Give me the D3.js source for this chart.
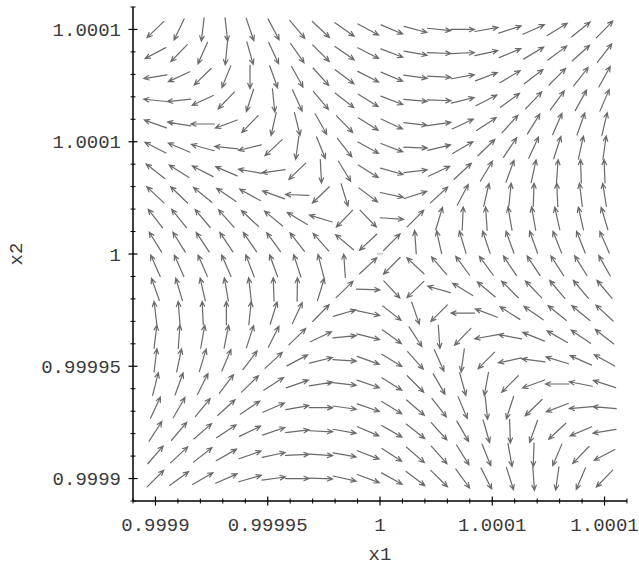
<!DOCTYPE html>
<html>
<head>
<meta charset="utf-8">
<script src="https://cdn.jsdelivr.net/npm/d3@7/dist/d3.min.js"></script>
<style>
	body { margin: 0; background: #fff; }
	svg { display: block; }
	text { font-family: "Liberation Mono", "Courier New", monospace; fill: #3a3a3a; }
</style>
</head>
<body>
<svg></svg>
<script>
// grid of sample points (x1 left to right, x2 top to bottom)
var xGrid = [0.9999, 0.99991053, 0.99992105, 0.99993158, 0.99994211, 0.99995263, 0.99996316, 0.99997368, 0.99998421, 0.99999474,
	1.00000526, 1.00001579, 1.00002632, 1.00003684, 1.00004737, 1.00005789, 1.00006842, 1.00007895, 1.00008947, 1.0001]
var yGrid = [1.0001, 1.00008947, 1.00007895, 1.00006842, 1.00005789, 1.00004737, 1.00003684, 1.00002632, 1.00001579, 1.00000526,
	0.99999474, 0.99998421, 0.99997368, 0.99996316, 0.99995263, 0.99994211, 0.99993158, 0.99992105, 0.99991053, 0.9999]

// arrow directions in degrees (counter-clockwise from +x1), one row per yGrid value
var angleRows = [
	[224, 244.5, 263, 276.5, 289, 298, 310, 317, 325, 332, 337, 345, 354, 0, 10, 18, 24, 31.5, 39, 45.6],
	[208, 226, 246, 264.5, 285.5, 295, 305, 315, 325, 333, 339, 350, 358, 3, 12.5, 22.5, 31, 36.5, 42, 52],
	[189, 205, 224.5, 248, 270, 289.6, 299, 312, 323, 333, 337, 352, 357, 10, 21, 30.7, 37.5, 45, 52, 61],
	[174.5, 186, 205, 226, 252, 276, 294, 310, 322, 328, 339, 355, 358, 14, 27, 36, 46.7, 53.6, 61, 66.7],
	[160.5, 170.5, 180, 200, 226, 257.5, 284, 299.5, 314, 328, 335, 353, 8, 25, 33, 48, 58, 66.5, 70.5, 76.8],
	[153, 157, 164.5, 173.5, 194, 223, 262, 292, 308, 331, 339, 358, 13.5, 30, 44, 56, 65.5, 72, 77.5, 82],
	[142, 147.7, 153, 156.7, 170, 188, 224, 273, 301.5, 328, 344, 6.5, 25, 43, 59, 70, 78, 86, 92, 92.5],
	[136.7, 136, 141, 146, 151, 160, 178, 224, 287, 323, 348, 17.7, 42.7, 62, 77, 84, 88, 92.5, 97, 99],
	[128, 129, 130, 131.6, 136.8, 140.7, 149, 163, 226, 314, 356, 45, 73.4, 87.5, 94, 100, 100, 102.6, 102.6, 106.6],
	[121.7, 121.7, 123.7, 123.7, 124.6, 126, 128, 131.6, 139.7, 223, 45, 94, 102.4, 106.4, 108.7, 110, 110, 111.7, 111.7, 113.8],
	[114, 114, 113.6, 113.6, 111, 110, 108, 104.4, 94, 43, 225, 137, 130.5, 126.4, 126.4, 123.7, 123.7, 123, 121.7, 119.4],
	[109.5, 106.6, 102.6, 100, 96.5, 92, 89, 73, 44, 358, 313, 224, 164, 148.5, 140, 135, 134, 130, 130, 130],
	[97, 94.5, 92.7, 90, 84, 73, 65, 45.6, 16.4, 348, 322, 289, 225, 180, 159, 147.6, 145.4, 141, 140.7, 137.3],
	[83, 86, 80, 79, 72, 63, 44, 25, 5.6, 346, 324, 303, 274, 226, 190, 169.5, 158, 150, 146, 142],
	[83, 78, 73, 67, 53, 43, 28, 14, 356, 340, 329, 312, 294, 262, 225, 192, 173, 163, 156, 151],
	[76, 70, 63.4, 52.6, 44, 33, 19.5, 9, 353, 341, 328, 315, 300, 285.5, 259.5, 225, 200, 180, 169, 162],
	[65, 60, 51, 42.6, 34, 23.5, 10, 0, 352, 341, 328, 319, 308, 293, 276, 252, 224, 201, 185, 175],
	[57, 50, 41, 33.5, 26, 19, 7, 357.5, 350, 337, 330, 322, 312, 300, 286, 272, 250, 223, 203, 189.5],
	[49, 43, 38, 29.5, 19.5, 12, 2.5, 356, 350, 339, 327, 319, 312, 302, 292, 280, 268, 247, 226, 207.6],
	[45, 36, 30, 23.6, 16, 7.6, 0, 358, 347.5, 339.5, 331, 323, 315.6, 306, 297, 287.7, 274, 262, 246.8, 226]
]

// the faint mark at the fixed point
var centerPoint = [1, 1]

var majorTicks = [0.9999, 0.99995, 1, 1.00005, 1.0001]
var majorLabels = ["0.9999", "0.99995", "1", "1.0001", "1.0001"]
var minorTicks = [0.99989, 0.99991, 0.99992, 0.99993, 0.99994, 0.99996, 0.99997, 0.99998, 0.99999,
	1.00001, 1.00002, 1.00003, 1.00004, 1.00006, 1.00007, 1.00008, 1.00009, 1.00011]

var xDomain = [0.99989, 1.00011]
var yDomain = [0.99989, 1.00011]

function main() {
	var W = 639, H = 566
	var plot = { left: 133, right: 627, top: 7, bottom: 501 }

	var svg = d3.select("svg")
		.attr("width", W)
		.attr("height", H)

	var xScale = d3.scaleLinear().domain(xDomain).range([plot.left, plot.right])
	var yScale = d3.scaleLinear().domain(yDomain).range([plot.bottom, plot.top])

	// arrows
	var arrows = []
	angleRows.forEach(function (row, j) {
		row.forEach(function (a, i) {
			arrows.push({ x: xGrid[i], y: yGrid[j], a: a })
		})
	})

	var len = (xScale(xGrid[1]) - xScale(xGrid[0])) * 0.99
	var headLen = 5.5, headAng = 24 * Math.PI / 180

	function arrowPath(d) {
		var cx = xScale(d.x), cy = yScale(d.y)
		var r = d.a * Math.PI / 180
		var ux = Math.cos(r), uy = -Math.sin(r)
		var tx = cx - ux * len / 2, ty = cy - uy * len / 2
		var hx = cx + ux * len / 2, hy = cy + uy * len / 2
		var back = Math.atan2(-uy, -ux)
		var l1x = hx + headLen * Math.cos(back + headAng), l1y = hy + headLen * Math.sin(back + headAng)
		var l2x = hx + headLen * Math.cos(back - headAng), l2y = hy + headLen * Math.sin(back - headAng)
		return "M" + tx + "," + ty + "L" + hx + "," + hy +
			"M" + l1x + "," + l1y + "L" + hx + "," + hy + "L" + l2x + "," + l2y
	}

	svg.append("g")
		.selectAll("path")
		.data(arrows)
		.enter().append("path")
		.attr("d", arrowPath)
		.attr("fill", "none")
		.attr("stroke", "#6a6a6a")
		.attr("stroke-width", 1.2)
		.attr("stroke-linecap", "round")

	svg.append("line")
		.attr("x1", xScale(centerPoint[0]) - 3)
		.attr("x2", xScale(centerPoint[0]) + 3)
		.attr("y1", yScale(centerPoint[1]))
		.attr("y2", yScale(centerPoint[1]))
		.attr("stroke", "#d6d6d6")
		.attr("stroke-width", 2.5)

	// axes
	var axes = svg.append("g").attr("stroke", "#000")

	axes.append("line")
		.attr("x1", plot.left).attr("x2", plot.right)
		.attr("y1", plot.bottom).attr("y2", plot.bottom)
		.attr("stroke-width", 1.5)
	axes.append("line")
		.attr("x1", plot.left).attr("x2", plot.left)
		.attr("y1", plot.top).attr("y2", plot.bottom)
		.attr("stroke-width", 1.5)

	// x ticks
	axes.selectAll(".xmaj").data(majorTicks).enter().append("line")
		.attr("x1", xScale).attr("x2", xScale)
		.attr("y1", plot.bottom - 4.5).attr("y2", plot.bottom + 4.5)
		.attr("stroke-width", 1.2)
	axes.selectAll(".xmin").data(minorTicks).enter().append("line")
		.attr("x1", xScale).attr("x2", xScale)
		.attr("y1", plot.bottom - 2.5).attr("y2", plot.bottom + 2.5)
		.attr("stroke-width", 1)

	// y ticks
	axes.selectAll(".ymaj").data(majorTicks).enter().append("line")
		.attr("y1", yScale).attr("y2", yScale)
		.attr("x1", plot.left - 4.5).attr("x2", plot.left + 4.5)
		.attr("stroke-width", 1.2)
	axes.selectAll(".ymin").data(minorTicks).enter().append("line")
		.attr("y1", yScale).attr("y2", yScale)
		.attr("x1", plot.left - 2.5).attr("x2", plot.left + 2.5)
		.attr("stroke-width", 1)

	// tick labels
	svg.selectAll(".xlab").data(majorTicks).enter().append("text")
		.attr("x", xScale)
		.attr("y", 531)
		.attr("text-anchor", "middle")
		.style("font-size", "19px")
		.text(function (d, i) { return majorLabels[i] })

	svg.selectAll(".ylab").data(majorTicks).enter().append("text")
		.attr("x", 121)
		.attr("y", function (d) { return yScale(d) + 6.5 })
		.attr("text-anchor", "end")
		.style("font-size", "19px")
		.text(function (d, i) { return majorLabels[i] })

	// axis titles
	svg.append("text")
		.attr("x", xScale(1))
		.attr("y", 560)
		.attr("text-anchor", "middle")
		.style("font-size", "19px")
		.text("x1")

	svg.append("text")
		.attr("transform", "translate(22," + yScale(1) + ") rotate(-90)")
		.attr("text-anchor", "middle")
		.style("font-size", "19px")
		.text("x2")
}

main()
</script>
</body>
</html>
